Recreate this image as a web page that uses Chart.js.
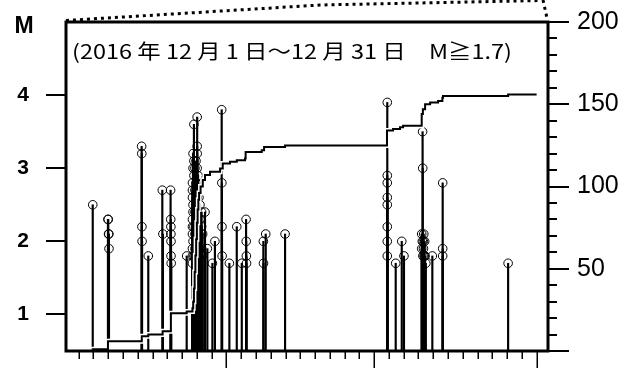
<!DOCTYPE html>
<html>
<head>
<meta charset="utf-8">
<script src="https://cdn.jsdelivr.net/npm/chart.js@4.4.0/dist/chart.umd.min.js"></script>
<style>
html,body{margin:0;padding:0;background:#fff;}
canvas{display:block;}
</style>
</head>
<body>
<canvas id="c" width="641" height="368"></canvas>
<script>
// ---- data (day offset from 2016-12-01 00:00, magnitude) ----
const eventDays = [
  0.95,
  1.98, 2.00, 2.02, 2.04, 2.05,
  4.26, 4.27, 4.28, 4.29,
  4.71,
  5.66, 5.70,
  6.22, 6.23, 6.24, 6.24, 6.25, 6.25, 6.26,
  7.31,
  7.70, 7.70, 7.70, 7.70, 7.70, 7.70, 7.70, 7.70, 7.70,
  7.74, 7.74, 7.74, 7.74, 7.74,
  7.80, 7.80, 7.80, 7.80, 7.80,
  7.87, 7.87, 7.87, 7.87, 7.87,
  7.94, 7.94, 7.94, 7.94, 7.94,
  8.02, 8.02, 8.02, 8.02, 8.02, 8.02, 8.02,
  8.08, 8.08, 8.08, 8.08,
  8.14, 8.14, 8.14,
  8.21, 8.21, 8.21,
  8.32, 8.32, 8.32, 8.32,
  8.39, 8.39,
  8.55, 8.71, 9.05, 9.22,
  9.68, 9.69, 9.70, 9.71,
  10.20, 10.70, 11.04,
  11.33, 11.34, 11.35, 11.36,
  12.50, 12.51, 12.66, 13.97,
  20.89, 20.89, 20.89, 20.89, 20.89, 20.89, 20.89, 20.89,
  21.46, 21.87, 22.02,
  23.22, 23.22, 23.26, 23.28, 23.29, 23.30, 23.33, 23.34, 23.36, 23.38, 23.42, 23.45, 23.50,
  23.94,
  24.64, 24.64, 24.64,
  29.07
];
const eventMags = [
  2.5,
  2.3, 2.3, 2.1, 2.1, 1.9,
  3.3, 3.2, 2.2, 2.0,
  1.8,
  2.7, 2.1,
  2.7, 2.3, 2.2, 2.1, 2.0, 1.8, 1.7,
  1.8,
  2.8, 2.7, 2.6, 2.3, 2.2, 2.1, 1.9, 1.8, 1.7,
  3.2, 3.0, 2.5, 2.4, 2.0,
  3.6, 3.1, 2.9, 2.2, 1.8,
  3.0, 2.7, 2.4, 2.1, 1.9,
  3.1, 2.8, 2.5, 2.0, 1.7,
  3.7, 3.3, 3.2, 3.0, 2.6, 2.3, 1.8,
  2.9, 2.2, 2.0, 1.7,
  2.6, 2.1, 1.8,
  2.5, 2.3, 1.9,
  2.4, 2.2, 1.9, 1.7,
  2.1, 1.8,
  2.4, 1.9, 1.7, 2.0,
  3.8, 2.8, 2.2, 1.8,
  1.7, 2.2, 1.7,
  2.3, 2.0, 1.8, 1.7,
  2.0, 1.7, 2.1, 2.1,
  3.9, 2.9, 2.8, 2.6, 2.5, 2.2, 2.0, 1.8,
  1.7, 2.0, 1.8,
  2.1, 1.9, 2.0, 3.5, 3.0, 1.8, 2.0, 1.9, 2.1, 1.8, 2.0, 1.8, 1.7,
  1.8,
  2.8, 1.9, 1.8,
  1.7
];
// cumulative number of events (right axis)
const stepDays = [-0.86, 0.95, 1.98, 4.27, 4.71, 5.68, 6.24, 7.31,
  7.70, 7.75, 7.80, 7.85, 7.90, 7.95, 8.00, 8.05, 8.10, 8.15, 8.25, 8.40, 8.55, 8.89,
  9.57, 9.75, 10.24, 10.70, 11.26, 11.30, 12.39, 12.55, 13.97,
  20.87, 21.28, 21.75, 21.96, 23.22, 23.30, 23.45, 23.79, 24.33, 24.62, 24.66, 29.07, 31.0];
const stepCounts = [0, 1, 6, 9, 10, 12, 23, 24,
  26, 30, 38, 48, 58, 68, 78, 86, 92, 96, 100, 104, 107, 109,
  111, 114, 115, 116, 117, 121, 122, 124, 125,
  134, 135, 136, 137, 144, 147, 150, 151, 152, 154, 155, 156, 156];
const magTicks = [1, 2, 3, 4];
const countLabels = [50, 100, 150, 200];
const dayTicks = [0,1,2,3,4,5,6,7,8,9,10,11,12,13,14,15,16,17,18,19,20,21,22,23,24,25,26,27,28,29,30,31];
const longDayTicks = [10, 20, 31];
const titleText = '(2016 年 12 月 1 日～12 月 31 日\u3000M≧1.7)';
const magLabel = 'M';

const stemData = eventDays.map((d, i) => ({x: d, y: [0.5, eventMags[i]]}));
const pointData = eventDays.map((d, i) => ({x: d, y: eventMags[i]}));
const stepData = stepDays.map((d, i) => ({x: d, y: stepCounts[i]}));

const decor = {
  id: 'decor',
  afterDraw(chart) {
    const {ctx, chartArea: a, scales} = chart;
    ctx.save();
    // dotted connector lines
    ctx.strokeStyle = '#000';
    ctx.lineWidth = 3;
    ctx.setLineDash([3, 4]);
    ctx.beginPath();
    ctx.moveTo(a.left, a.top - 1.5);
    ctx.lineTo(320, 5);
    ctx.lineTo(a.right - 7, 0.5);
    ctx.stroke();
    ctx.beginPath();
    ctx.moveTo(a.right - 5, 0);
    ctx.lineTo(a.right - 1, a.top - 4);
    ctx.stroke();
    ctx.setLineDash([]);
    // frame
    ctx.lineWidth = 3;
    ctx.strokeRect(a.left, a.top, a.right - a.left, a.bottom - a.top);
    // left-axis ticks
    const yM = scales.yM;
    ctx.lineWidth = 2;
    magTicks.forEach(v => {
      const y = Math.round(yM.getPixelForValue(v));
      ctx.beginPath();
      ctx.moveTo(a.left - 20, y);
      ctx.lineTo(a.left, y);
      ctx.stroke();
    });
    // right-axis ticks
    const yN = scales.yN;
    for (let v = 0; v <= 200; v += 10) {
      const y = Math.round(yN.getPixelForValue(v));
      const len = (v % 50 === 0) ? 21 : 9;
      ctx.beginPath();
      ctx.moveTo(a.right, y);
      ctx.lineTo(a.right + len, y);
      ctx.stroke();
    }
    // x ticks
    const xs = scales.x;
    ctx.lineWidth = 1.5;
    dayTicks.forEach(d => {
      const x = Math.round(xs.getPixelForValue(d)) + 0.25;
      const len = longDayTicks.includes(d) ? 20 : 8;
      ctx.beginPath();
      ctx.moveTo(x, a.bottom + 1);
      ctx.lineTo(x, a.bottom + len);
      ctx.stroke();
    });
    // M label
    ctx.fillStyle = '#000';
    ctx.font = 'bold 23px "Liberation Sans"';
    ctx.textAlign = 'center';
    ctx.textBaseline = 'middle';
    ctx.fillText(magLabel, 24, 27);
    // title inside plot
    ctx.font = '20px "Noto Sans CJK JP"';
    ctx.textAlign = 'left';
    const w = ctx.measureText(titleText).width;
    const target = 440;
    ctx.translate(a.left + 6, a.top + 29);
    ctx.scale(target / w, 1);
    ctx.fillText(titleText, 0, 0);
    ctx.restore();
  }
};

new Chart(document.getElementById('c'), {
  type: 'scatter',
  data: {
    datasets: [
      {type: 'line', data: stepData, xAxisID: 'x', yAxisID: 'yN', stepped: true,
       borderColor: '#000', borderWidth: 2, pointRadius: 0, fill: false, order: 0},
      {type: 'line', data: stepData, xAxisID: 'x', yAxisID: 'yN', stepped: true,
       borderColor: '#fff', borderWidth: 5, pointRadius: 0, fill: false, order: 1},
      {type: 'scatter', data: pointData, xAxisID: 'x', yAxisID: 'yM',
       pointStyle: 'circle', pointRadius: 4.3, borderColor: '#000', borderWidth: 1,
       backgroundColor: 'rgba(0,0,0,0)', order: 2},
      {type: 'bar', data: stemData, xAxisID: 'x', yAxisID: 'yM',
       barThickness: 1.5, backgroundColor: '#000', borderWidth: 0, grouped: false, order: 3}
    ]
  },
  options: {
    responsive: false,
    animation: false,
    devicePixelRatio: 1,
    layout: {padding: {top: 22, left: 0, right: 0, bottom: 0}},
    plugins: {legend: {display: false}, tooltip: {enabled: false}, title: {display: false}},
    scales: {
      x: {
        type: 'linear', min: -0.86, max: 31.77, offset: false,
        grid: {display: false, drawTicks: false}, border: {display: false},
        ticks: {display: false},
        afterFit(s) { s.height = 17; }
      },
      yM: {
        type: 'linear', position: 'left', min: 0.5, max: 5,
        afterBuildTicks(s) { s.ticks = magTicks.map(v => ({value: v})); },
        ticks: {color: '#000', padding: 0, font: {family: 'Liberation Sans', size: 21, weight: 'bold'},
                callback: v => String(v)},
        grid: {display: true, drawOnChartArea: false, drawTicks: true, tickLength: 37,
               tickWidth: 0, tickColor: 'rgba(0,0,0,0)', color: 'rgba(0,0,0,0)'},
        border: {display: false},
        afterFit(s) { s.width = 66; }
      },
      yN: {
        type: 'linear', position: 'right', min: 0, max: 200,
        afterBuildTicks(s) { s.ticks = countLabels.map(v => ({value: v})); },
        ticks: {color: '#000', padding: 0, font: {family: 'Liberation Sans', size: 25},
                callback: v => String(v)},
        grid: {display: true, drawOnChartArea: false, drawTicks: true, tickLength: 29,
               tickWidth: 0, tickColor: 'rgba(0,0,0,0)', color: 'rgba(0,0,0,0)'},
        border: {display: false},
        afterFit(s) { s.width = 93; }
      }
    }
  },
  plugins: [decor]
});
</script>
</body>
</html>
